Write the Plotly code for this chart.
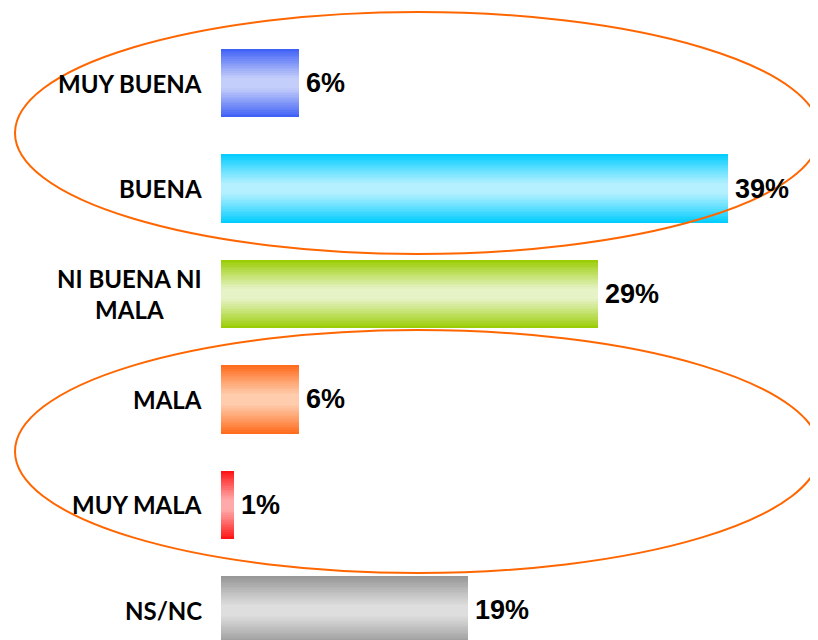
import plotly.graph_objects as go

categories = ["MUY BUENA", "BUENA", "NI BUENA NI<br>MALA", "MALA", "MUY MALA", "NS/NC"]
values = [6, 39, 29, 6, 1, 19]
value_labels = ["6%", "39%", "29%", "6%", "1%", "19%"]
dark_colors = ["#3C5EF6", "#00CCFF", "#99CC00", "#FF6A1A", "#FF1010", "#969696"]
light_colors = ["#C4CEFA", "#B4F0FF", "#E6F3C6", "#FFCDAE", "#FFAAAA", "#DEDEDE"]

BAR_W = 0.645
N_LAYERS = 20


def hex2rgb(h):
    h = h.lstrip("#")
    return [int(h[i:i + 2], 16) for i in (0, 2, 4)]


def mix(c1, c2, t):
    a, b = hex2rgb(c1), hex2rgb(c2)
    return "rgb(%d,%d,%d)" % tuple(round(a[i] + (b[i] - a[i]) * t) for i in range(3))


def profile(f):
    # f: 0 at centre, 1 at edge -> 0 light, 1 dark
    t = max(0.0, (f - 0.12) / 0.88)
    return t ** 1.1


ypos = list(range(len(categories)))
fig = go.Figure()
for k in range(N_LAYERS):
    f_out = 1 - k / N_LAYERS
    f_in = 1 - (k + 1) / N_LAYERS
    t = profile((f_out + f_in) / 2)
    fig.add_trace(go.Bar(
        x=values, y=ypos, orientation="h",
        width=BAR_W * f_out,
        marker=dict(color=[mix(l, d, t) for l, d in zip(light_colors, dark_colors)],
                    line=dict(width=0)),
        hoverinfo="skip", showlegend=False,
    ))

annotations = []
for i, (cat, v, lab) in enumerate(zip(categories, values, value_labels)):
    annotations.append(dict(
        x=0, y=i, xref="x", yref="y", text="<b>%s</b>" % cat,
        xanchor="right", yanchor="middle", align="center", xshift=-17,
        showarrow=False,
        font=dict(family="Lato, Carlito, sans-serif", size=24, color="#000000"),
    ))
    annotations.append(dict(
        x=v, y=i, xref="x", yref="y", text="<b>%s</b>" % lab,
        xanchor="left", yanchor="middle", xshift=5,
        showarrow=False,
        font=dict(family="Liberation Sans, Arial, sans-serif", size=27, color="#000000"),
    ))

# page has an 8px body margin: figure is 810x632 placed at (8, 8)
W, H = 810, 632
OFF = 8
shapes = [
    dict(type="circle", xref="paper", yref="paper", layer="above",
         x0=(15 - OFF) / W, x1=(820 - OFF) / W,
         y0=1 - (254 - OFF) / H, y1=1 - (12 - OFF) / H,
         line=dict(color="#FF6600", width=2)),
    dict(type="circle", xref="paper", yref="paper", layer="above",
         x0=(15 - OFF) / W, x1=(820 - OFF) / W,
         y0=1 - (573 - OFF) / H, y1=1 - (330 - OFF) / H,
         line=dict(color="#FF6600", width=2)),
]

fig.update_layout(
    width=W, height=H,
    margin=dict(l=0, r=0, t=0, b=0),
    paper_bgcolor="white", plot_bgcolor="white",
    barmode="overlay", bargap=0,
    xaxis=dict(range=[-16.385, 45.92], visible=False, fixedrange=True),
    yaxis=dict(range=[5.280, -0.711], visible=False, fixedrange=True),
    annotations=annotations, shapes=shapes,
)

fig.write_html("out.html", config={"displayModeBar": False})
